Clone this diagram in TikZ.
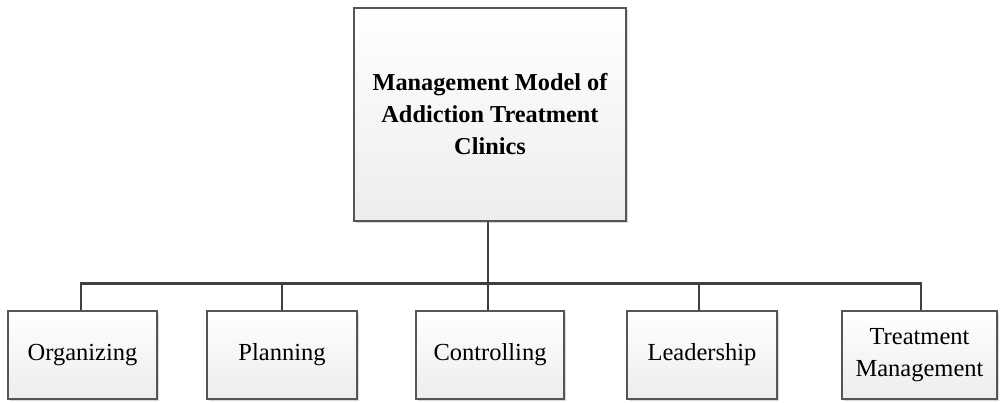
\documentclass[tikz,border=0pt]{standalone}
\usepackage{fontspec}
\setmainfont{Liberation Serif}
\usetikzlibrary{shadows}
\definecolor{edge}{HTML}{555555}
\definecolor{wire}{HTML}{404040}
\definecolor{shade}{HTML}{EDEDED}
\begin{document}
\begin{tikzpicture}[x=1pt,y=-1pt,
  box/.style={draw=edge,line width=1.3pt,top color=white,bottom color=shade,
    drop shadow={shadow xshift=2pt,shadow yshift=-2pt,fill=black!25,opacity=0.6},
    font=\fontsize{24.5}{32.5}\selectfont,align=center,inner sep=0pt},
  wireline/.style={draw=wire,line width=2.2pt}]
\useasboundingbox (0,0) rectangle (1001,402);
\node[box,minimum width=272pt,minimum height=213pt,font=\bfseries\fontsize{24.3}{32}\selectfont] (top) at (490,114.5) {Management Model of\\Addiction Treatment\\Clinics};
\node[box,minimum width=149pt,minimum height=88pt] (org) at (82.5,355) {Organizing};
\node[box,minimum width=150pt,minimum height=88pt] (pla) at (282,355) {Planning};
\node[box,minimum width=148pt,minimum height=88pt] (con) at (490,355) {Controlling};
\node[box,minimum width=150pt,minimum height=88pt] (lea) at (702,355) {Leadership};
\node[box,minimum width=155pt,minimum height=88pt] (tre) at (919.5,355) {Treatment\\Management};
\coordinate (hub) at (488,283.5);
\draw[wireline] (top.south -| hub) -- (hub);
\draw[wireline] (org.north -| 81,0) |- (hub) -- (hub -| 921,0) -- (tre.north -| 921,0);
\draw[wireline] (pla.north -| 282,0) -- (282,283.5);
\draw[wireline] (lea.north -| 699,0) -- (699,283.5);
\draw[wireline] (hub) -- (con.north -| hub);
\end{tikzpicture}
\end{document}
